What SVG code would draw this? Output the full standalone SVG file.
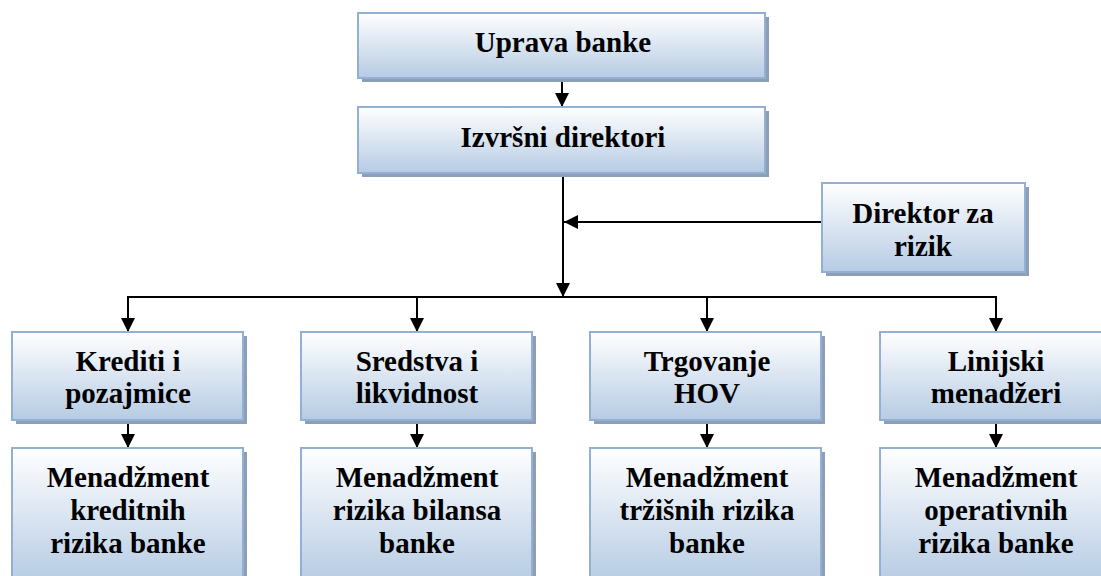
<svg xmlns="http://www.w3.org/2000/svg" width="1101" height="576" viewBox="0 0 1101 576">
<defs>
<linearGradient id="g" x1="0" y1="0" x2="0" y2="1">
<stop offset="0" stop-color="#ffffff"/>
<stop offset="1" stop-color="#b6cbe3"/>
</linearGradient>
<marker id="ah" markerWidth="14" markerHeight="14" refX="14" refY="7" orient="auto" markerUnits="userSpaceOnUse" viewBox="0 0 14 14">
<path d="M0,0 L14,7 L0,14 Z" fill="#000"/>
</marker>
<style>
.sh{fill:#8f9fb3}
.bx{fill:url(#g);stroke:#92b0d6;stroke-width:2}
.t{font-family:'Liberation Serif','Times New Roman',serif;font-weight:bold;font-size:29px;fill:#000;text-anchor:middle}
.c{stroke:#000;stroke-width:2;fill:none}
</style>
</defs>
<g id="connectors">
<line class="c" x1="562" y1="78" x2="562" y2="107" marker-end="url(#ah)"/>
<line class="c" x1="563" y1="173" x2="563" y2="297" marker-end="url(#ah)"/>
<line class="c" x1="822" y1="222" x2="564" y2="222" marker-end="url(#ah)"/>
<polyline class="c" points="128,320 128,297 996,297 996,320"/>
<line class="c" x1="128" y1="297" x2="128" y2="332" marker-end="url(#ah)"/>
<line class="c" x1="417" y1="297" x2="417" y2="332" marker-end="url(#ah)"/>
<line class="c" x1="707" y1="297" x2="707" y2="332" marker-end="url(#ah)"/>
<line class="c" x1="996" y1="297" x2="996" y2="332" marker-end="url(#ah)"/>
<line class="c" x1="128" y1="420" x2="128" y2="448" marker-end="url(#ah)"/>
<line class="c" x1="417" y1="420" x2="417" y2="448" marker-end="url(#ah)"/>
<line class="c" x1="707" y1="420" x2="707" y2="448" marker-end="url(#ah)"/>
<line class="c" x1="996" y1="420" x2="996" y2="448" marker-end="url(#ah)"/>
</g>
<g id="uprava">
<rect class="sh" x="362" y="17" width="407" height="65"/>
<rect class="bx" x="358" y="13" width="407" height="65"/>
<text class="t" x="563" y="52">Uprava banke</text>
</g>
<g id="izvrsni">
<rect class="sh" x="362" y="111" width="407" height="66"/>
<rect class="bx" x="358" y="107" width="407" height="66"/>
<text class="t" x="563" y="147">Izvršni direktori</text>
</g>
<g id="direktor">
<rect class="sh" x="826" y="187" width="203" height="89"/>
<rect class="bx" x="822" y="183" width="203" height="89"/>
<text class="t" x="923" y="223">Direktor za</text>
<text class="t" x="923" y="256">rizik</text>
</g>
<g id="krediti">
<rect class="sh" x="16" y="336" width="231" height="88"/>
<rect class="bx" x="12" y="332" width="231" height="88"/>
<text class="t" x="128" y="371">Krediti i</text>
<text class="t" x="128" y="403">pozajmice</text>
</g>
<g id="sredstva">
<rect class="sh" x="305" y="336" width="231" height="88"/>
<rect class="bx" x="301" y="332" width="231" height="88"/>
<text class="t" x="417" y="371">Sredstva i</text>
<text class="t" x="417" y="403">likvidnost</text>
</g>
<g id="trgovanje">
<rect class="sh" x="594" y="336" width="231" height="88"/>
<rect class="bx" x="590" y="332" width="231" height="88"/>
<text class="t" x="707" y="371">Trgovanje</text>
<text class="t" x="707" y="403">HOV</text>
</g>
<g id="linijski">
<rect class="sh" x="884" y="336" width="231" height="88"/>
<rect class="bx" x="880" y="332" width="231" height="88"/>
<text class="t" x="996" y="371">Linijski</text>
<text class="t" x="996" y="403">menadžeri</text>
</g>
<g id="m-kreditnih">
<rect class="sh" x="16" y="452" width="231" height="135"/>
<rect class="bx" x="12" y="448" width="231" height="135"/>
<text class="t" x="128" y="487">Menadžment</text>
<text class="t" x="128" y="520">kreditnih</text>
<text class="t" x="128" y="553">rizika banke</text>
</g>
<g id="m-bilansa">
<rect class="sh" x="305" y="452" width="231" height="135"/>
<rect class="bx" x="301" y="448" width="231" height="135"/>
<text class="t" x="417" y="487">Menadžment</text>
<text class="t" x="417" y="520">rizika bilansa</text>
<text class="t" x="417" y="553">banke</text>
</g>
<g id="m-trzisnih">
<rect class="sh" x="594" y="452" width="231" height="135"/>
<rect class="bx" x="590" y="448" width="231" height="135"/>
<text class="t" x="707" y="487">Menadžment</text>
<text class="t" x="707" y="520">tržišnih rizika</text>
<text class="t" x="707" y="553">banke</text>
</g>
<g id="m-operativnih">
<rect class="sh" x="884" y="452" width="231" height="135"/>
<rect class="bx" x="880" y="448" width="231" height="135"/>
<text class="t" x="996" y="487">Menadžment</text>
<text class="t" x="996" y="520">operativnih</text>
<text class="t" x="996" y="553">rizika banke</text>
</g>
</svg>
